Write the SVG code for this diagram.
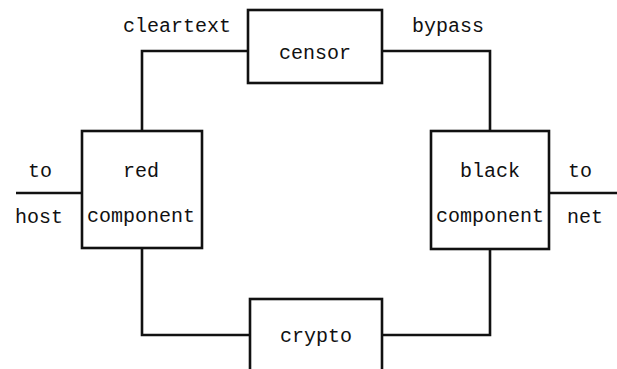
<svg xmlns="http://www.w3.org/2000/svg" width="617" height="369" viewBox="0 0 617 369">
<style>
.box{fill:#fff;stroke:#111;stroke-width:2.6}
.ln{fill:none;stroke:#111;stroke-width:2.6}
text{font-family:"Liberation Mono","DejaVu Sans Mono",monospace;font-size:20px;fill:#111;text-anchor:middle}
</style>
<rect width="617" height="369" fill="#fff"/>
<g id="connectors">
<path class="ln" d="M142,131 V51 H248"/>
<path class="ln" d="M382,51 H490 V131"/>
<path class="ln" d="M142,248 V335 H250"/>
<path class="ln" d="M382,335 H490 V249"/>
<path class="ln" d="M16,193 H82"/>
<path class="ln" d="M549,193 H617"/>
</g>
<g id="censor">
<rect class="box" x="248" y="10" width="134" height="73"/>
<text x="315" y="59">censor</text>
</g>
<g id="red">
<rect class="box" x="82" y="131" width="120" height="117"/>
<text x="141" y="177">red</text>
<text x="141" y="222">component</text>
</g>
<g id="black">
<rect class="box" x="431" y="131" width="118" height="118"/>
<text x="490" y="177">black</text>
<text x="490" y="222">component</text>
</g>
<g id="crypto">
<rect class="box" x="250" y="299" width="132" height="80"/>
<text x="316" y="342">crypto</text>
</g>
<g id="labels">
<text x="177" y="32">cleartext</text>
<text x="448" y="32">bypass</text>
<text x="40" y="177">to</text>
<text x="39" y="223">host</text>
<text x="580" y="177">to</text>
<text x="585" y="223">net</text>
</g>
</svg>
